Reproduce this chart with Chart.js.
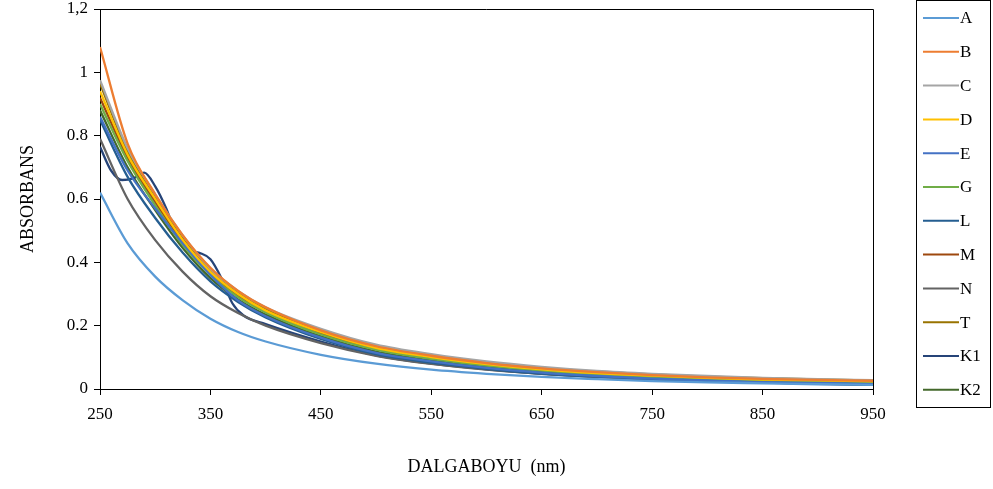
<!DOCTYPE html>
<html>
<head>
<meta charset="utf-8">
<script src="https://cdn.jsdelivr.net/npm/chart.js@4"></script>
<style>
  html, body { margin: 0; padding: 0; background: #fff; }
  #wrap { width: 993px; height: 489px; }
</style>
</head>
<body>
<div id="wrap"><canvas id="grafico" width="993" height="489"></canvas></div>
<script>
const dalgaboyu = [250, 275, 300, 325, 350, 375, 400, 450, 500, 550, 600, 650, 700, 750, 800, 850, 900, 950]
const dalgaboyuK1 = [250, 260, 270, 280, 290, 300, 310, 320, 330, 340, 350, 360, 370, 380, 400, 450, 500, 550, 600, 650, 700, 750, 800, 850, 900, 950]

const serieA = [0.62, 0.46, 0.355, 0.28, 0.222, 0.18, 0.15, 0.108, 0.08, 0.061, 0.048, 0.038, 0.031, 0.025, 0.021, 0.018, 0.015, 0.013]
const serieB = [1.08, 0.775, 0.615, 0.485, 0.383, 0.31, 0.258, 0.185, 0.135, 0.105, 0.082, 0.065, 0.053, 0.044, 0.037, 0.032, 0.029, 0.026]
const serieC = [0.975, 0.76, 0.615, 0.485, 0.38, 0.31, 0.258, 0.19, 0.14, 0.11, 0.087, 0.07, 0.057, 0.048, 0.041, 0.035, 0.031, 0.028]
const serieD = [0.94, 0.74, 0.6, 0.47, 0.37, 0.3, 0.248, 0.18, 0.13, 0.101, 0.079, 0.062, 0.05, 0.042, 0.035, 0.03, 0.027, 0.024]
const serieE = [0.86, 0.69, 0.57, 0.46, 0.36, 0.28, 0.23, 0.162, 0.114, 0.087, 0.067, 0.052, 0.041, 0.033, 0.027, 0.022, 0.019, 0.016]
const serieG = [0.9, 0.72, 0.58, 0.455, 0.36, 0.29, 0.242, 0.172, 0.124, 0.095, 0.074, 0.058, 0.046, 0.038, 0.031, 0.026, 0.023, 0.02]
const serieL = [0.85, 0.67, 0.54, 0.43, 0.34, 0.275, 0.226, 0.158, 0.11, 0.083, 0.064, 0.049, 0.039, 0.031, 0.025, 0.021, 0.017, 0.014]
const serieM = [0.92, 0.73, 0.59, 0.465, 0.365, 0.295, 0.245, 0.176, 0.127, 0.098, 0.076, 0.06, 0.048, 0.04, 0.033, 0.028, 0.025, 0.022]
const serieN = [0.79, 0.6, 0.47, 0.37, 0.293, 0.24, 0.2, 0.145, 0.105, 0.079, 0.061, 0.048, 0.038, 0.031, 0.025, 0.021, 0.018, 0.015]
const serieT = [0.965, 0.75, 0.605, 0.475, 0.375, 0.305, 0.253, 0.185, 0.135, 0.106, 0.084, 0.067, 0.055, 0.046, 0.039, 0.034, 0.03, 0.027]
const serieK1 = [0.765, 0.69, 0.66, 0.665, 0.683, 0.64, 0.57, 0.48, 0.44, 0.43, 0.41, 0.35, 0.27, 0.232, 0.205, 0.15, 0.106, 0.08, 0.062, 0.048, 0.038, 0.03, 0.025, 0.02, 0.016, 0.013]
const serieK2 = [0.88, 0.7, 0.565, 0.445, 0.35, 0.283, 0.235, 0.166, 0.118, 0.09, 0.07, 0.054, 0.043, 0.035, 0.029, 0.024, 0.02, 0.017]

const etiketler = ['A', 'B', 'C', 'D', 'E', 'G', 'L', 'M', 'N', 'T', 'K1', 'K2']
const renkler = ['#5B9BD5', '#ED7D31', '#A5A5A5', '#FFC000', '#4472C4', '#70AD47', '#255E91', '#9E480E', '#636363', '#997300', '#264478', '#43682B']
const yEtiketler = ['0', '0.2', '0.4', '0.6', '0.8', '1', '1,2']

const seriler = [serieA, serieB, serieC, serieD, serieE, serieG, serieL, serieM, serieN, serieT, serieK1, serieK2]

const ctx = document.getElementById('grafico')
const fnt = 'Liberation Serif, Times New Roman, serif'

function noktalar(xs, ys) {
    return ys.map((v, i) => ({ x: xs[i], y: v }))
}

const datasets = seriler.map((s, i) => ({
    label: etiketler[i],
    data: noktalar(etiketler[i] === 'K1' ? dalgaboyuK1 : dalgaboyu, s),
    borderColor: renkler[i],
    backgroundColor: renkler[i],
    borderWidth: 2.3,
    pointRadius: 0,
    cubicInterpolationMode: 'monotone',
    fill: false
}))

// lejant kutusu ve grafik cercevesi
const cerceve = {
    id: 'cerceve',
    afterDraw(chart) {
        const c = chart.ctx
        const a = chart.chartArea
        c.save()
        c.strokeStyle = '#000'
        c.lineWidth = 1
        c.beginPath()
        c.moveTo(a.left, a.top + 0.5)
        c.lineTo(a.right + 0.5, a.top + 0.5)
        c.lineTo(a.right + 0.5, a.bottom)
        c.stroke()

        c.strokeRect(916.5, 0.5, 74, 407)
        c.font = '17px ' + fnt
        c.textBaseline = 'middle'
        c.fillStyle = '#000'
        chart.data.datasets.forEach((d, i) => {
            const y = 18 + i * 33.8
            c.strokeStyle = d.borderColor
            c.lineWidth = 2
            c.beginPath()
            c.moveTo(923, y)
            c.lineTo(959, y)
            c.stroke()
            c.fillText(d.label, 960, y + 1)
        })
        c.restore()
    }
}

const grafico = new Chart(ctx, {
    type: 'line',
    data: { datasets: datasets },
    options: {
        responsive: false,
        animation: false,
        layout: { padding: { left: 0, right: 120, top: 9, bottom: 0 } },
        plugins: {
            legend: { display: false },
            tooltip: { enabled: false }
        },
        scales: {
            x: {
                type: 'linear',
                min: 250,
                max: 950,
                border: { color: '#000', width: 1 },
                grid: { display: true, drawOnChartArea: false, color: '#000', tickLength: 6 },
                ticks: { stepSize: 100, color: '#000', font: { family: fnt, size: 17 }, padding: 9 },
                title: { display: true, text: 'DALGABOYU  (nm)', color: '#000', font: { family: fnt, size: 18 }, padding: { top: 4, bottom: 11 } },
                afterFit: s => { s.height = 100 }
            },
            y: {
                min: 0,
                max: 1.2,
                border: { color: '#000', width: 1 },
                grid: { display: true, drawOnChartArea: false, color: '#000', tickLength: 6 },
                ticks: {
                    stepSize: 0.2,
                    color: '#000',
                    font: { family: fnt, size: 17 },
                    padding: 6,
                    callback: (v, i) => yEtiketler[i]
                },
                title: { display: true, text: 'ABSORBANS', color: '#000', font: { family: fnt, size: 18 }, padding: { top: 17, bottom: 4 } },
                afterFit: s => { s.width = 100; s.paddingTop = 0; s.paddingBottom = 0 }
            }
        }
    },
    plugins: [cerceve]
})
</script>
</body>
</html>
